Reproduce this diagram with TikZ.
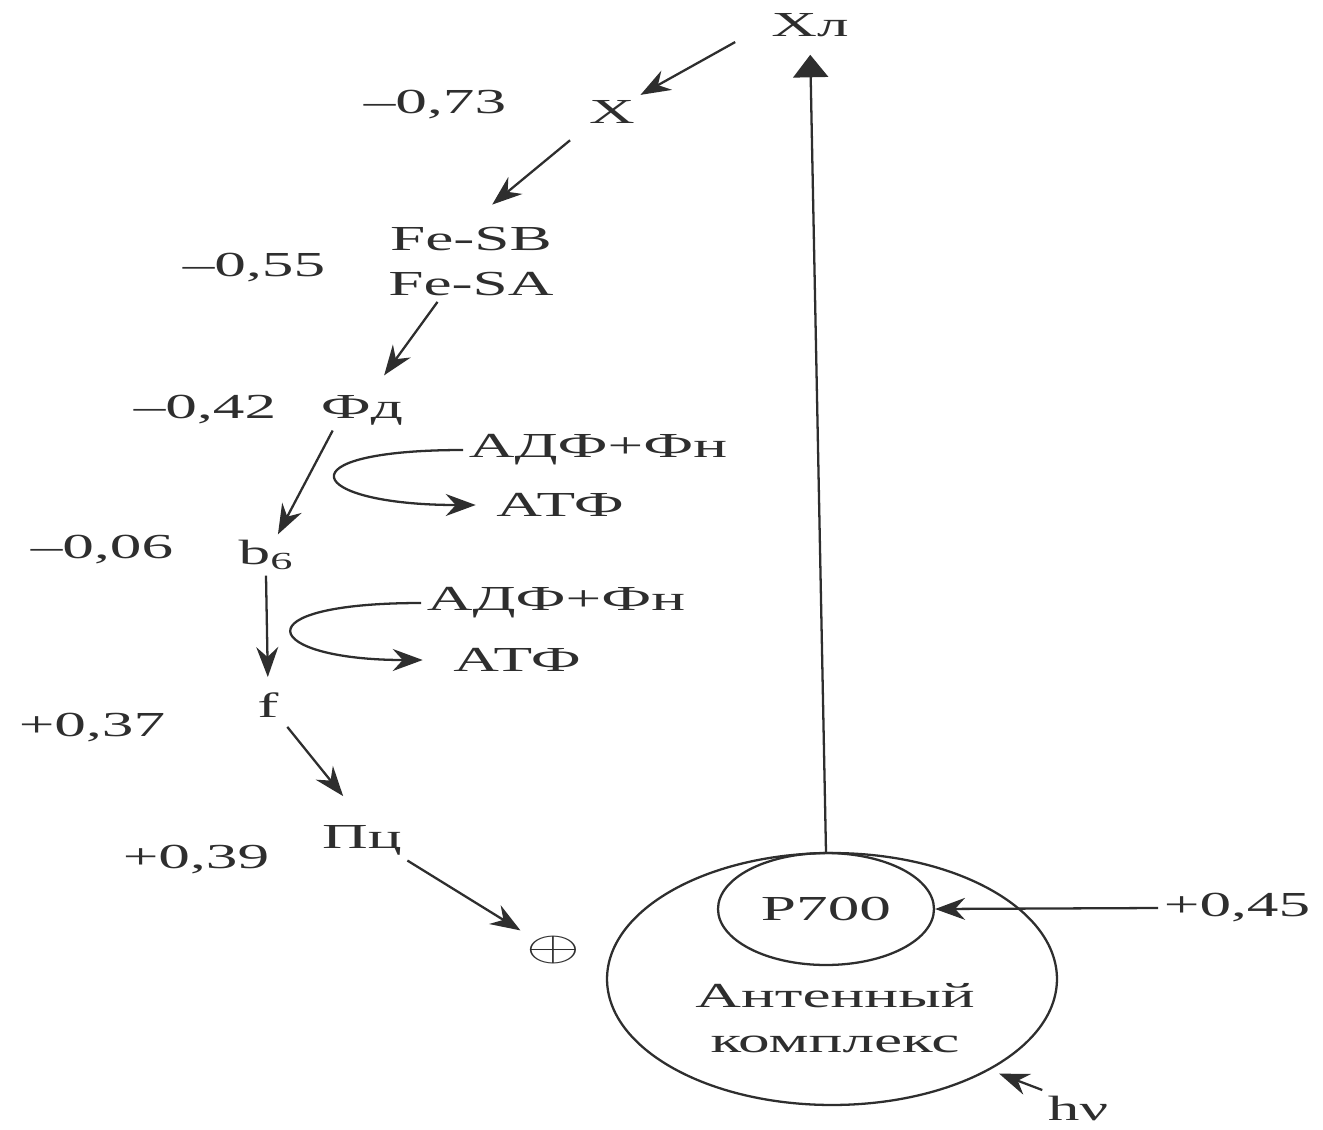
\documentclass[tikz,border=0pt]{standalone}
\usepackage{fontspec}
\setmainfont{Liberation Serif}[FakeStretch=1.8]
\usetikzlibrary{arrows.meta,shapes.geometric}

\begin{document}
\begin{tikzpicture}[x=0.02cm, y=-0.02cm]
    % Define drawing properties
    \def\inkcolor{black!82}   % Dark grey ink
    \def\inkwidth{1.3pt}
    \def\labelsize{\fontsize{20}{25.6}\selectfont}

    \tikzset{
        carrier/.style={text=\inkcolor, font=\labelsize, inner sep=3pt, align=center},
        potential/.style={text=\inkcolor, font=\labelsize, inner sep=3pt},
        flow/.style={draw=\inkcolor, line width=\inkwidth,
            -{Stealth[length=0.6cm, width=0.44cm, inset=0.2cm]}},
        lift/.style={draw=\inkcolor, line width=\inkwidth,
            -{Triangle[length=0.45cm, width=0.7cm]}},
        ring/.style={ellipse, draw=\inkcolor, line width=\inkwidth, inner sep=0pt}
    }

    % Fix the page size
    \useasboundingbox (0,0) rectangle (1323,1130);

    % Electron carriers, top to bottom
    \node[carrier] (xl) at (810,25) {Хл};
    \node[carrier] (x) at (612,112) {Х};
    \node[carrier] (fe) at (471,262) {Fe-SB\\Fe-SA};
    \node[carrier] (fd) at (362,410) {Фд};
    \node[carrier] (b6) at (266,555) {b\textsubscript{6}};
    \node[carrier] (f) at (268,705) {f};
    \node[carrier] (pc) at (362,840) {Пц};
    \node[carrier] (plus) at (553,950) {\scalebox{1.9}[1.15]{$\oplus$}};

    % Redox potentials
    \node[potential] (m73) at (435,105) {–0,73};
    \node[potential] (m55) at (254,268) {–0,55};
    \node[potential] (m42) at (205,410) {–0,42};
    \node[potential] (m06) at (102,550) {–0,06};
    \node[potential] (p37) at (92,728) {+0,37};
    \node[potential] (p39) at (196,860) {+0,39};
    \node[potential] (p45) at (1237,908) {+0,45};

    % Phosphorylation sites
    \node[carrier] (adf1) at (598,450) {АДФ+Фн};
    \node[carrier] (atp1) at (560,505) {АТФ};
    \node[carrier] (adf2) at (556,603) {АДФ+Фн};
    \node[carrier] (atp2) at (517,660) {АТФ};

    % Photosystem
    \node[ring, minimum width=9cm, minimum height=5.04cm] (ant) at (832,979) {};
    \node[ring, minimum width=4.32cm, minimum height=2.24cm,
        text=\inkcolor, font=\labelsize] (p700) at (826,909) {P700};
    \node[carrier] (anttext) at (835,1018) {Антенный\\комплекс};
    \node[carrier] (hv) at (1078,1108) {hν};

    % Electron path
    \draw[flow, shorten <=0.7cm] (xl.west) -- (x.north east);
    \draw[flow, shorten <=0.35cm, shorten >=0.55cm] (x.south west) -- (fe.north);
    \draw[flow, shorten >=0.35cm] (fe.230) -- (fd.60);
    \draw[flow] (fd.215) -- (b6.60);
    \draw[flow, shorten >=0.2cm] (b6.south) -- (f.north);
    \draw[flow, shorten <=0.1cm, shorten >=0.6cm] (f.south east) -- (pc.north);
    \draw[flow] (pc.south east) -- (plus.north west);

    % ATP formation
    \draw[flow, shorten >=0.3cm] (adf1.west) .. controls +(-185,0) and +(-185,0) .. (atp1.west);
    \draw[flow, shorten >=0.5cm] (adf2.west) .. controls +(-185,0) and +(-185,0) .. (atp2.west);

    % Excitation and donor
    \draw[lift, shorten >=0.25cm] (p700.north) -- (xl.south);
    \draw[flow] (p45.west) -- (p700.east);
    \draw[flow, shorten >=0.2cm] (hv.north west) -- (ant.-30);
\end{tikzpicture}
\end{document}
